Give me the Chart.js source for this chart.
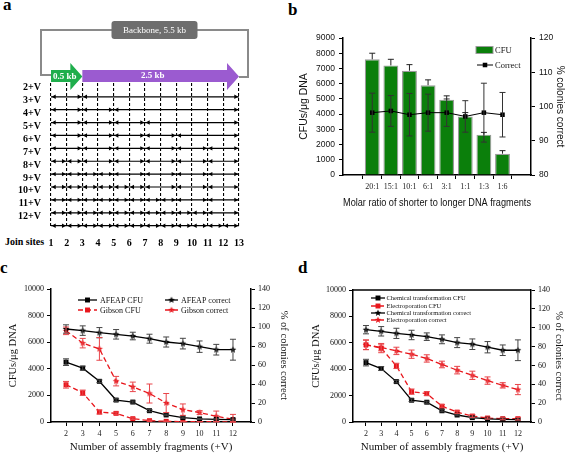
<!DOCTYPE html>
<html>
<head>
<meta charset="utf-8">
<script src="https://cdn.jsdelivr.net/npm/chart.js@4"></script>
<style>
  body { margin: 0; width: 567px; height: 454px; position: relative; background: #fff; overflow: hidden; }
  .panel { position: absolute; }
  .letter { position: absolute; font: bold 17px "Liberation Serif", "Times New Roman", serif; line-height: 17px; color: #000; }
  .join { position: absolute; font: bold 10px "Liberation Serif", "Times New Roman", serif; color: #000; }
</style>
</head>
<body>
<div class="letter" style="left:3px;top:-4px">a</div>
<div class="letter" style="left:288px;top:1px">b</div>
<div class="letter" style="left:0px;top:259px">c</div>
<div class="letter" style="left:298px;top:259px">d</div>
<div class="join" style="left:5px;top:236px">Join sites</div>

<div class="panel" style="left:0;top:0;width:280px;height:255px"><canvas id="chartA"></canvas></div>
<div class="panel" style="left:280px;top:0;width:287px;height:230px"><canvas id="chartB"></canvas></div>
<div class="panel" style="left:0;top:255px;width:295px;height:199px"><canvas id="chartC"></canvas></div>
<div class="panel" style="left:283px;top:255px;width:284px;height:199px"><canvas id="chartD"></canvas></div>

<script>
// ---------- data ----------

// panel a: join sites and the internal junctions of each assembly
const joinSites = [1, 2, 3, 4, 5, 6, 7, 8, 9, 10, 11, 12, 13];
const rowLabels = ["2+V", "3+V", "4+V", "5+V", "6+V", "7+V", "8+V", "9+V", "10+V", "11+V", "12+V"];
const rowJoins = [
  [3],
  [3, 5],
  [3, 5, 7],
  [3, 5, 7, 9],
  [3, 5, 7, 9, 11],
  [2, 3, 5, 7, 9, 11],
  [2, 3, 4, 5, 7, 9, 11],
  [2, 3, 4, 5, 6, 7, 9, 11],
  [2, 3, 4, 5, 6, 7, 8, 9, 11],
  [2, 3, 4, 5, 6, 7, 8, 9, 10, 11],
  [2, 3, 4, 5, 6, 7, 8, 9, 10, 11, 12]
];
const shortFragmentEnd = 3;

// panel b
const ratioLabels = ["20:1", "15:1", "10:1", "6:1", "3:1", "1:1", "1:3", "1:6"];
const cfuB = [7600, 7200, 6850, 5900, 4950, 3850, 2650, 1400];
const cfuBErr = [400, 400, 400, 350, 250, 250, 150, 200];
const correctB = [98.2, 98.7, 97.6, 98.2, 98.2, 97.1, 98.2, 97.6];
const correctBErr = [5.7, 4.5, 6.2, 5.4, 4.0, 4.6, 8.6, 6.5];

// panels c and d
const fragments = [2, 3, 4, 5, 6, 7, 8, 9, 10, 11, 12];
const afeapCfu = [4500, 4050, 3060, 1650, 1500, 850, 530, 330, 230, 200, 180];
const afeapCfuErr = [250, 150, 100, 100, 80, 80, 60, 50, 40, 40, 40];
const gibsonCfu = [2800, 2200, 750, 650, 250, 100, 50, 30, 20, 20, 10];
const gibsonCfuErr = [250, 200, 150, 100, 60, 40, 30, 20, 10, 10, 10];
const afeapCorrect = [97.9, 96.2, 94.0, 92.3, 90.5, 87.7, 84.2, 82.5, 79.3, 76.1, 76.1];
const afeapCorrectErr = [4.4, 5.0, 5.4, 5.0, 4.0, 4.7, 5.3, 5.6, 6.0, 5.6, 11.0];
const gibsonCorrect = [96, 83, 77, 43, 37, 30, 20, 13, 10, 6, 3];
const gibsonCorrectErr = [4, 5, 12, 5, 5, 10, 10, 6, 2, 5.5, 5];

const chemCfu = [4500, 4050, 3060, 1650, 1500, 850, 530, 330, 230, 200, 180];
const chemCfuErr = [250, 150, 100, 100, 80, 80, 60, 50, 40, 40, 40];
const electroCfu = [5850, 5600, 4250, 2300, 2150, 1200, 750, 450, 300, 250, 250];
const electroCfuErr = [375, 350, 200, 200, 150, 120, 100, 100, 80, 80, 100];
const chemCorrect = [97.9, 96.2, 94.0, 92.3, 90.5, 87.7, 84.2, 82.5, 79.3, 76.1, 76.1];
const chemCorrectErr = [4.4, 5.0, 5.4, 5.0, 4.0, 4.7, 5.3, 5.6, 6.0, 5.6, 11.0];
const electroCorrect = [81.8, 79.0, 75.4, 71.9, 67.4, 61.0, 55.0, 49.5, 43.9, 38.9, 34.4];
const electroCorrectErr = [4.9, 3.5, 3.9, 4.4, 3.9, 3.5, 4.0, 4.4, 3.9, 2.8, 5.4];

// ---------- styles ----------
const SERIF = '"Liberation Serif", "Times New Roman", serif';
const SANS = '"Liberation Sans", Arial, sans-serif';
const RED = "#e8161c";

Chart.defaults.font.family = SERIF;
Chart.defaults.color = "#111";

function starImage(color, r) {
  const c = document.createElement("canvas");
  c.width = c.height = Math.ceil(2 * r + 2);
  const g = c.getContext("2d");
  g.fillStyle = color;
  g.beginPath();
  for (let k = 0; k < 10; k++) {
    const rad = k % 2 ? r * 0.42 : r;
    const a = -Math.PI / 2 + k * Math.PI / 5;
    g.lineTo(c.width / 2 + rad * Math.cos(a), c.height / 2 + rad * Math.sin(a));
  }
  g.closePath();
  g.fill();
  return c;
}
const blackStar = starImage("#000", 3.6);
const redStar = starImage(RED, 3.6);

function points(xs, ys) {
  return xs.map((x, i) => ({ x: x, y: ys[i] }));
}

// plain numbers on the value axes (no thousands separator)
const plain = v => String(v);

// error bars drawn through the dataset's own scale
const errorBars = {
  id: "errorBars",
  afterDatasetsDraw(chart) {
    const ctx = chart.ctx;
    chart.data.datasets.forEach((ds, i) => {
      if (!ds.errors) return;
      const meta = chart.getDatasetMeta(i);
      const ys = chart.scales[meta.yAxisID];
      ctx.save();
      ctx.strokeStyle = ds.errorColor || "#000";
      ctx.lineWidth = 1;
      meta.data.forEach((el, j) => {
        const v = ds.data[j].y;
        const e = ds.errors[j];
        const x = el.x;
        const yTop = ys.getPixelForValue(v + e);
        const yBot = ds.upOnly ? ys.getPixelForValue(v) : ys.getPixelForValue(Math.max(v - e, ys.min));
        ctx.beginPath();
        ctx.moveTo(x, yTop); ctx.lineTo(x, yBot);
        ctx.moveTo(x - 3, yTop); ctx.lineTo(x + 3, yTop);
        if (!ds.upOnly) { ctx.moveTo(x - 3, yBot); ctx.lineTo(x + 3, yBot); }
        ctx.stroke();
      });
      ctx.restore();
    });
  }
};

function drawMarker(ctx, ds, x, y) {
  if (ds.pointStyle instanceof HTMLCanvasElement) {
    ctx.drawImage(ds.pointStyle, x - ds.pointStyle.width / 2, y - ds.pointStyle.height / 2);
  } else if (ds.pointStyle === "rect") {
    const s = ds.pointRadius / Math.SQRT2;
    ctx.fillStyle = ds.pointBackgroundColor;
    ctx.fillRect(x - s, y - s, 2 * s, 2 * s);
  }
}

// legends placed inside the plot area
const innerLegend = {
  id: "innerLegend",
  afterDraw(chart, args, opts) {
    if (!opts.items) return;
    const { ctx, chartArea } = chart;
    ctx.save();
    ctx.font = opts.font;
    ctx.textBaseline = "middle";
    opts.items.forEach(it => {
      const ds = chart.data.datasets[it.ds];
      const x = chartArea.left + it.dx;
      const y = chartArea.top + it.dy;
      if (it.box) {
        ctx.fillStyle = ds.backgroundColor;
        ctx.fillRect(x, y - 3.5, it.len, 7);
        ctx.strokeStyle = ds.borderColor;
        ctx.lineWidth = 1;
        ctx.strokeRect(x, y - 3.5, it.len, 7);
      } else {
        ctx.strokeStyle = ds.borderColor;
        ctx.lineWidth = ds.borderWidth;
        ctx.setLineDash(ds.borderDash || []);
        ctx.beginPath();
        ctx.moveTo(x, y); ctx.lineTo(x + it.len, y);
        ctx.stroke();
        ctx.setLineDash([]);
        drawMarker(ctx, ds, x + it.len / 2, y);
      }
      ctx.fillStyle = "#111";
      ctx.fillText(ds.label, x + it.len + (it.gap || 2), y + 0.5);
    });
    ctx.restore();
  }
};

const topBorder = {
  id: "topBorder",
  afterDraw(chart, args, opts) {
    if (!opts.show) return;
    const { ctx, chartArea } = chart;
    ctx.save();
    ctx.strokeStyle = "#000";
    ctx.lineWidth = 1.5;
    ctx.beginPath();
    ctx.moveTo(chartArea.left, chartArea.top);
    ctx.lineTo(chartArea.right, chartArea.top);
    ctx.stroke();
    ctx.restore();
  }
};

Chart.register(errorBars, innerLegend, topBorder);

function axisStyle(extra) {
  return Object.assign({
    grid: { drawOnChartArea: false, drawTicks: true, tickLength: 4, color: "#000", lineWidth: 1 },
    border: { display: true, color: "#000", width: 1.5 }
  }, extra);
}

// ---------- panel a: assembly scheme ----------
const schematic = {
  id: "schematic",
  beforeDatasetsDraw(chart) {
    const { ctx, chartArea, scales } = chart;
    const T = chartArea.top;
    const xs = scales.x.getPixelForValue(joinSites[0]);
    const xm = scales.x.getPixelForValue(shortFragmentEnd);
    const xe = scales.x.getPixelForValue(joinSites[joinSites.length - 1]);
    ctx.save();
    // backbone loop
    const fl = xs - 10, fr = xe + 9, ft = T - 53;
    ctx.strokeStyle = "#8a8a8a";
    ctx.lineWidth = 2;
    ctx.beginPath();
    ctx.moveTo(xs, T - 8); ctx.lineTo(fl, T - 8); ctx.lineTo(fl, ft);
    ctx.lineTo(fr, ft); ctx.lineTo(fr, T - 6); ctx.lineTo(xe, T - 6);
    ctx.stroke();
    const cx = (fl + fr) / 2 + 10;
    ctx.fillStyle = "#6e6e6e";
    ctx.beginPath();
    ctx.roundRect(cx - 43, ft - 9, 86, 18, 3);
    ctx.fill();
    ctx.fillStyle = "#fff";
    ctx.font = "9px " + SERIF;
    ctx.textAlign = "center";
    ctx.textBaseline = "middle";
    ctx.fillText("Backbone, 5.5 kb", cx, ft + 0.5);
    // fragment arrows
    function arrow(x0, x1, color) {
      ctx.fillStyle = color;
      ctx.beginPath();
      ctx.moveTo(x0, T - 13); ctx.lineTo(x1 - 12, T - 13); ctx.lineTo(x1 - 12, T - 20);
      ctx.lineTo(x1, T - 6.5); ctx.lineTo(x1 - 12, T + 7); ctx.lineTo(x1 - 12, T - 1);
      ctx.lineTo(x0, T - 1); ctx.closePath();
      ctx.fill();
    }
    arrow(xs, xm, "#1fae4c");
    arrow(xm, xe, "#9b5bd0");
    ctx.fillStyle = "#fff";
    ctx.font = "bold 9px " + SERIF;
    ctx.textAlign = "left";
    ctx.fillText("0.5 kb", xs + 2, T - 6.5);
    ctx.textAlign = "center";
    ctx.fillText("2.5 kb", (xm + xe) / 2 - 8, T - 7);
    ctx.restore();
  },
  afterDatasetsDraw(chart) {
    // double-headed arrows for every fragment
    const ctx = chart.ctx;
    ctx.save();
    ctx.fillStyle = "#000";
    chart.data.datasets.forEach((ds, i) => {
      const pts = chart.getDatasetMeta(i).data;
      for (let k = 0; k < pts.length - 1; k++) {
        const a = pts[k].x + 0.7, b = pts[k + 1].x - 0.7, y = pts[k].y;
        ctx.beginPath();
        ctx.moveTo(a, y); ctx.lineTo(a + 4, y - 2.2); ctx.lineTo(a + 4, y + 2.2); ctx.closePath();
        ctx.moveTo(b, y); ctx.lineTo(b - 4, y - 2.2); ctx.lineTo(b - 4, y + 2.2); ctx.closePath();
        ctx.fill();
      }
    });
    ctx.restore();
  }
};

new Chart(document.getElementById("chartA"), {
  type: "line",
  data: {
    datasets: rowJoins.map((j, r) => ({
      label: rowLabels[r],
      data: [joinSites[0]].concat(j, [joinSites[joinSites.length - 1]]).map(x => ({ x: x, y: r })),
      borderColor: "#000",
      borderWidth: 1.2,
      pointRadius: 0
    }))
  },
  options: {
    responsive: true, maintainAspectRatio: false, animation: false, devicePixelRatio: 1,
    layout: { padding: { top: 83, right: 41, left: 0, bottom: 0 } },
    plugins: { legend: { display: false }, tooltip: { enabled: false } },
    scales: {
      x: {
        type: "linear", min: joinSites[0], max: joinSites[joinSites.length - 1],
        afterBuildTicks: s => { s.ticks = joinSites.map(v => ({ value: v })); },
        ticks: { callback: plain, font: { family: SERIF, size: 10, weight: "bold" }, color: "#000", padding: 9, maxRotation: 0, autoSkip: false },
        grid: { color: "#000", lineWidth: 1.1, drawTicks: false },
        border: { display: false, dash: [3, 2] },
        afterFit: s => { s.height = 27; }
      },
      y: {
        type: "linear", reverse: true, min: -1.07, max: 10.18,
        afterBuildTicks: s => { s.ticks = rowLabels.map((_, i) => ({ value: i })); },
        ticks: { callback: v => rowLabels[v], font: { family: SERIF, size: 10, weight: "bold" }, color: "#000", padding: 10, labelOffset: -9, autoSkip: false },
        grid: { display: false, drawTicks: false },
        border: { display: false },
        afterFit: s => { s.width = 51; }
      }
    }
  },
  plugins: [schematic]
});

// ---------- panel b ----------
new Chart(document.getElementById("chartB"), {
  type: "bar",
  data: {
    datasets: [
      {
        type: "line", label: "Correct", yAxisID: "y1",
        data: points(ratioLabels.map((_, i) => i + 1), correctB),
        borderColor: "#000", borderWidth: 1, pointStyle: "rect", pointRadius: 3.2,
        pointBackgroundColor: "#000", pointBorderWidth: 0,
        errors: correctBErr, errorColor: "#333"
      },
      {
        label: "CFU", yAxisID: "y",
        data: points(ratioLabels.map((_, i) => i + 1), cfuB),
        backgroundColor: "#0b7f0b", borderColor: "#9a9a9a", borderWidth: 1.2,
        categoryPercentage: 0.8, barPercentage: 1,
        errors: cfuBErr, upOnly: true, errorColor: "#222"
      }
    ]
  },
  options: {
    responsive: true, maintainAspectRatio: false, animation: false, devicePixelRatio: 1,
    layout: { padding: { top: 38, left: 0, right: 0, bottom: 0 } },
    plugins: {
      legend: { display: false }, tooltip: { enabled: false },
      innerLegend: {
        font: "8.5px " + SERIF,
        items: [
          { ds: 1, box: true, dx: 133, dy: 12, len: 17, gap: 2 },
          { ds: 0, dx: 134, dy: 27, len: 16, gap: 2 }
        ]
      }
    },
    scales: {
      x: axisStyle({
        type: "linear", min: 0.06, max: 8.9,
        afterBuildTicks: s => { s.ticks = ratioLabels.map((_, i) => ({ value: i + 1 })); },
        ticks: { callback: v => ratioLabels[v - 1], font: { family: SERIF, size: 8 }, color: "#222", padding: 3, maxRotation: 0, autoSkip: false },
        title: { display: true, text: "Molar ratio of shorter to longer DNA fragments", font: { family: SANS, size: 10.5 }, color: "#111", padding: { top: 0, bottom: 20.5 } },
        afterFit: s => { s.height = 55; }
      }),
      y: axisStyle({
        position: "left", min: 0, max: 9000,
        ticks: { stepSize: 1000, callback: plain, font: { family: SANS, size: 8.5 }, color: "#111", padding: 4 },
        title: { display: true, text: "CFUs/μg DNA", font: { family: SANS, size: 10.5 }, color: "#111", padding: { top: 17.5, bottom: 0 } },
        afterFit: s => { s.width = 63; }
      }),
      y1: axisStyle({
        position: "right", min: 80, max: 120,
        ticks: { stepSize: 10, callback: plain, font: { family: SANS, size: 8.5 }, color: "#111", padding: 4 },
        title: { display: true, text: "% colonies correct", font: { family: SANS, size: 10 }, color: "#111", padding: { top: 1, bottom: 0 } },
        afterFit: s => { s.width = 36; }
      })
    }
  }
});

// ---------- panels c and d ----------
function fragmentChart(id, sets, opt) {
  return new Chart(document.getElementById(id), {
    type: "line",
    data: { datasets: sets },
    options: {
      responsive: true, maintainAspectRatio: false, animation: false, devicePixelRatio: 1,
      layout: { padding: { top: opt.top, left: 0, right: 0, bottom: 0 } },
      plugins: {
        legend: { display: false }, tooltip: { enabled: false },
        innerLegend: opt.legend,
        topBorder: { show: opt.topBorder }
      },
      scales: {
        x: axisStyle({
          type: "linear", min: opt.xMin, max: opt.xMax,
          afterBuildTicks: s => { s.ticks = fragments.map(v => ({ value: v })); },
          ticks: { callback: plain, font: { family: SERIF, size: 8 }, color: "#222", padding: 3, maxRotation: 0, autoSkip: false },
          title: { display: true, text: "Number of assembly fragments (+V)", font: { family: SERIF, size: 11 }, color: "#111", padding: { top: 0, bottom: 0 } },
          afterFit: s => { s.height = 32; }
        }),
        y: axisStyle({
          position: "left", min: 0, max: 10000,
          ticks: { stepSize: 2000, callback: plain, font: { family: SERIF, size: 8 }, color: "#111", padding: 3 },
          title: { display: true, text: "CFUs/μg DNA", font: { family: SERIF, size: 10.5 }, color: "#111", padding: { top: opt.yTitlePad, bottom: 0 } },
          afterFit: s => { s.width = opt.yWidth; }
        }),
        y1: axisStyle({
          position: "right", min: 0, max: 140,
          ticks: { stepSize: 20, callback: plain, font: { family: SERIF, size: 8 }, color: "#111", padding: 3 },
          title: { display: true, text: "% of colonies correct", font: { family: SERIF, size: 10.5 }, color: "#111", padding: { top: opt.y1TitlePad, bottom: 0 } },
          afterFit: s => { s.width = opt.y1Width; }
        })
      }
    }
  });
}

function series(label, values, errs, axis, color, dashed, marker) {
  return {
    label: label, yAxisID: axis,
    data: points(fragments, values),
    borderColor: color, borderWidth: 1.3, borderDash: dashed ? [5, 3] : [],
    pointStyle: marker, pointRadius: 3.5, pointBackgroundColor: color, pointBorderWidth: 0,
    errors: errs, errorColor: color === RED ? "#e8454a" : "#444"
  };
}

fragmentChart("chartC", [
  series("AFEAP CFU", afeapCfu, afeapCfuErr, "y", "#000", false, "rect"),
  series("Gibson CFU", gibsonCfu, gibsonCfuErr, "y", RED, true, "rect"),
  series("AFEAP correct", afeapCorrect, afeapCorrectErr, "y1", "#000", false, blackStar),
  series("Gibson correct", gibsonCorrect, gibsonCorrectErr, "y1", RED, true, redStar)
], {
  top: 34, xMin: 1.1, xMax: 13.08, yWidth: 51, y1Width: 44, yTitlePad: 6.7, y1TitlePad: 4.7, topBorder: false,
  legend: {
    font: "8px " + SERIF,
    items: [
      { ds: 0, dx: 27, dy: 11, len: 19, gap: 3 },
      { ds: 1, dx: 27, dy: 21, len: 19, gap: 3 },
      { ds: 2, dx: 114, dy: 11, len: 13, gap: 3 },
      { ds: 3, dx: 114, dy: 21, len: 13, gap: 3 }
    ]
  }
});

fragmentChart("chartD", [
  series("Chemical transformation CFU", chemCfu, chemCfuErr, "y", "#000", false, "rect"),
  series("Electroporation CFU", electroCfu, electroCfuErr, "y", RED, true, "rect"),
  series("Chemical transformation correct", chemCorrect, chemCorrectErr, "y1", "#000", false, blackStar),
  series("Electroporation correct", electroCorrect, electroCorrectErr, "y1", RED, true, redStar)
], {
  top: 35, xMin: 1.145, xMax: 12.86, yWidth: 70, y1Width: 36, yTitlePad: 26.7, y1TitlePad: 1.7, topBorder: true,
  legend: {
    font: "6.5px " + SERIF,
    items: [
      { ds: 0, dx: 18, dy: 8, len: 14, gap: 1.5 },
      { ds: 1, dx: 18, dy: 16, len: 14, gap: 1.5 },
      { ds: 2, dx: 18, dy: 23, len: 14, gap: 1.5 },
      { ds: 3, dx: 18, dy: 30, len: 14, gap: 1.5 }
    ]
  }
});
</script>
</body>
</html>
